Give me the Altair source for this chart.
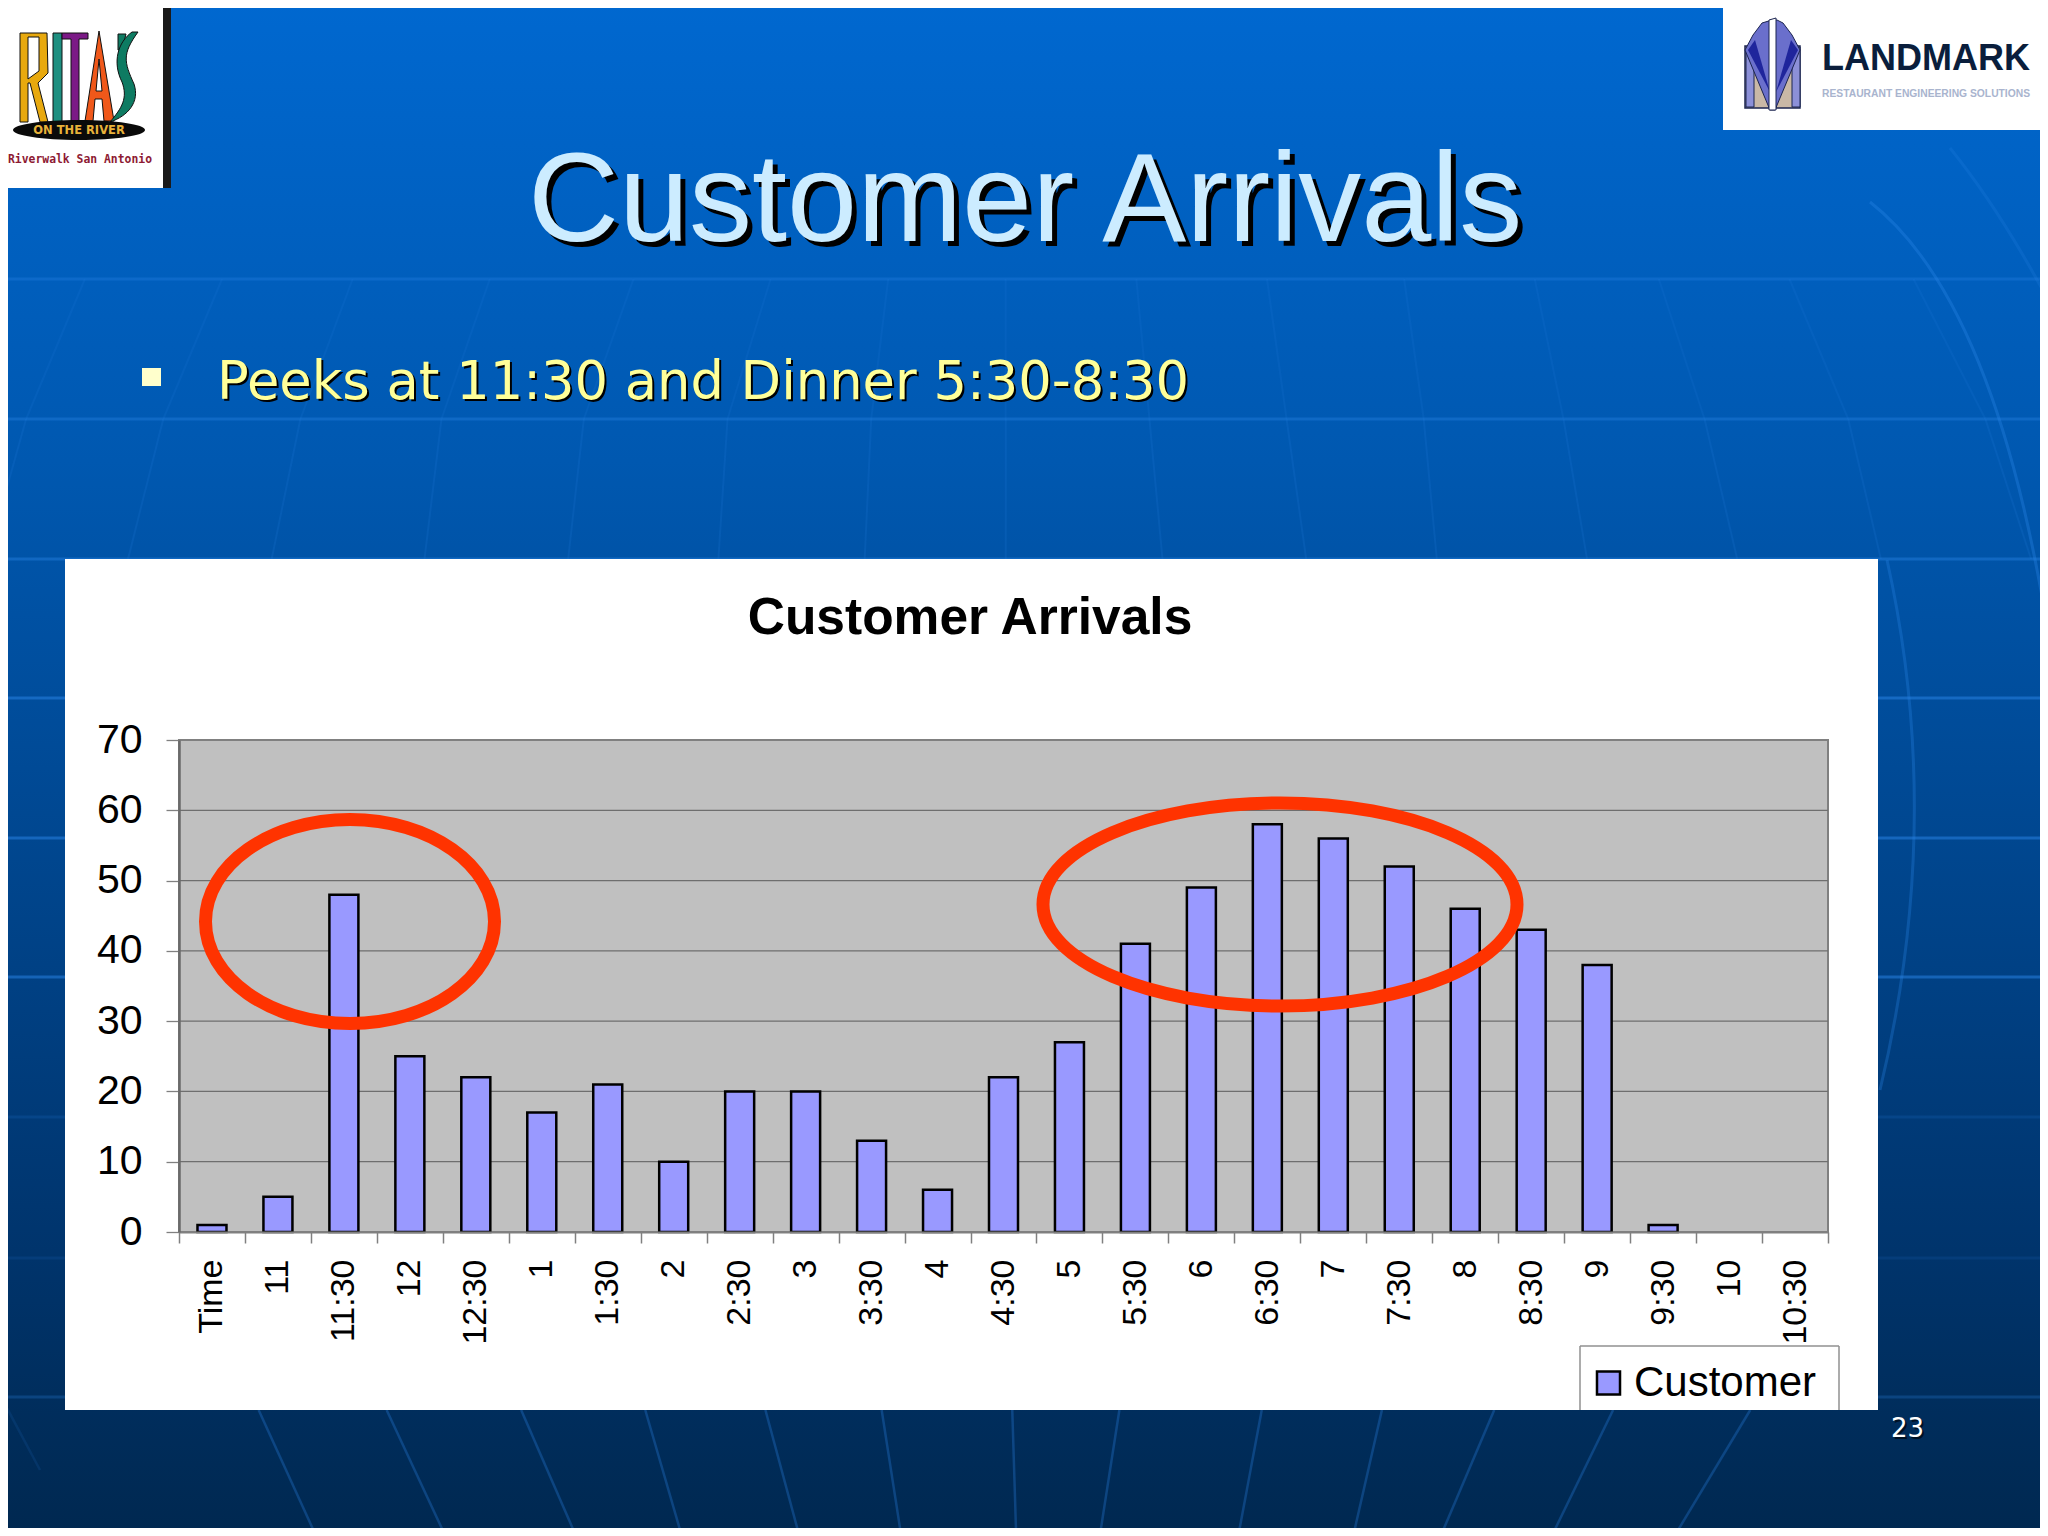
import altair as alt
import pandas as pd

times = ["Time","11","11:30","12","12:30","1","1:30","2","2:30","3","3:30","4","4:30","5","5:30","6","6:30","7","7:30","8","8:30","9","9:30","10","10:30"]
customers = [1,5,48,25,22,17,21,10,20,20,13,6,22,27,41,49,58,56,52,46,43,38,1,0,0]
grid_values = [10,20,30,40,50,60]
y_ticks = [0,10,20,30,40,50,60,70]
series_name = "Customer"

# plot area on the page
PX, PY, PW, PH = 179, 740, 1649, 492
def X(v): return v - PX
def Y(v): return v - PY

one = alt.Data(values=[{"a": 1}])
layers = []

def rect(x0, y0, x1, y1, **kw):
    layers.append(alt.Chart(one).mark_rect(**kw).encode(
        x=alt.value(X(x0)), x2=alt.value(X(x1)), y=alt.value(Y(y0)), y2=alt.value(Y(y1))))

def line(x0, y0, x1, y1, color="#2A86E8", opacity=0.35, width=3):
    layers.append(alt.Chart(one).mark_rule(color=color, opacity=opacity, strokeWidth=width).encode(
        x=alt.value(X(x0)), x2=alt.value(X(x1)), y=alt.value(Y(y0)), y2=alt.value(Y(y1))))

def text(s, x, y, size, color, font="Liberation Sans", bold=False, align="left", **kw):
    layers.append(alt.Chart(one).mark_text(font=font, fontSize=size, color=color, align=align,
        baseline="alphabetic", fontWeight="bold" if bold else "normal", **kw).encode(
        x=alt.value(X(x)), y=alt.value(Y(y)), text=alt.value(s)))

def shape(path, x, y, fill=None, stroke=None, sw=1, opacity=1):
    kw = dict(shape=path, size=4, opacity=opacity)
    if fill:
        kw.update(filled=True, fill=fill)
    else:
        kw.update(filled=False)
    if stroke:
        kw.update(stroke=stroke, strokeWidth=sw)
    else:
        kw.update(strokeWidth=0)
    layers.append(alt.Chart(one).mark_point(**kw).encode(x=alt.value(X(x)), y=alt.value(Y(y))))

def ellipse_path(rx, ry):
    return f"M{-rx},0 A{rx},{ry} 0 1,0 {rx},0 A{rx},{ry} 0 1,0 {-rx},0 Z"

# slide background
rect(0, 0, 2048, 1536, color=alt.Gradient(gradient="linear", x1=0, y1=0, x2=0, y2=1, stops=[
    alt.GradientStop(color="#0068D0", offset=0),
    alt.GradientStop(color="#0058B0", offset=0.3),
    alt.GradientStop(color="#004A96", offset=0.5),
    alt.GradientStop(color="#00356E", offset=0.8),
    alt.GradientStop(color="#002850", offset=1)]))
for yy, op in [(279,.3),(419,.35),(559,.4),(698,.5),(838,.5),(977,.5),(1117,.15),(1258,.12),(1397,.25)]:
    line(0, yy, 2048, yy, opacity=op, width=3)
# faint meridians above the panel
upper_a = [65,170,270,375,485,590,680,770,870,970,1075,1175,1270,1370,1465]
upper_b = [20,125,230,338,447,557,667,770,880,985,1090,1197,1305,1415,1520]
upper_c = [-10,98,208,325,435,550,662,770,890,1000,1100,1215,1330,1440,1555]
for a, b, c in zip(upper_a, upper_b, upper_c):
    line(a/.7656, 279, b/.7656, 419, opacity=0.12, width=2)
    line(b/.7656, 419, c/.7656, 559, opacity=0.14, width=2)
# meridians under the panel
lower_a = [198,296,399,494,586,675,775,857,966,1058,1144,1235,1340]
lower_b = [242,341,441,522,612,690,778,842,948,1036,1103,1188,1282]
for a, b in zip(lower_a, lower_b):
    line(a/.7656, 1410, b/.7656, 1536, opacity=0.3, width=2.5)
line(0, 1395, 40, 1470, opacity=0.12, width=2.5)
# arcs at the right
shape("M1870,202 Q1995,300 2048,632", 0, 0, stroke="#2A86E8", sw=3, opacity=0.35)
shape("M1887,560 Q1945,820 1880,1090", 0, 0, stroke="#2A86E8", sw=3, opacity=0.3)
shape("M1950,148 Q2000,210 2048,300", 0, 0, stroke="#2A86E8", sw=3, opacity=0.2)

# Rita's logo
rect(0, 0, 163, 188, color="white")
rect(163, 0, 171, 188, color="#1A1A1A")
shape("M0,0 L27,0 L28,40 L18,50 L28,89 L20,89 L10,50 L8,50 L8,89 L0,89 Z M8,4 L8,46 L19,38 L19,4 Z", 20, 33, fill="#E8A90E", stroke="#111111", sw=1)
shape("M0,0 L9,0 L9,89 L0,89 Z", 53, 33, fill="#1E8F80", stroke="#111111", sw=1)
shape("M0,0 L26,0 L26,6 L17,6 L17,89 L9,89 L9,6 L0,6 Z", 62, 33, fill="#7B1A86", stroke="#111111", sw=1)
shape("M14,0 L29,90 L19,90 L17,68 L10,68 L8,90 L0,90 Z M11,60 L17,60 L14,28 Z", 85, 31, fill="#F0581A", stroke="#111111", sw=1)
shape("M0,0 L8,0 L4,16 L0,16 Z", 118, 34, fill="#0E7B62", stroke="#111111", sw=1)
shape("M22,0 L28,0 C12,22 14,30 24,52 C30,70 18,84 0,90 C12,76 18,66 12,50 C2,30 8,10 22,0 Z", 110, 32, fill="#0E7B62", stroke="#111111", sw=1)
shape(ellipse_path(66, 10), 79, 130, fill="#0A0A0A")
text("ON THE RIVER", 79, 134, 11.5, "#E9B23A", font="DejaVu Sans", bold=True, align="center")
text("Riverwalk San Antonio", 8, 163, 11.4, "#8E1A33", font="DejaVu Sans Mono", bold=True)

# Landmark logo
rect(1723, 0, 2048, 130, color="white")
shape("M0,0 L55,0 L55,62 L47,62 L45,62 L0,62 Z", 1745, 46, fill="#C9B8A6", stroke="#1B2450", sw=1.5)
shape("M0,2 L8,0 L8,60 L0,60 Z", 1746, 47, fill="#8C90D8", stroke="#1B2450", sw=1)
shape("M0,2 L8,0 L8,60 L0,60 Z", 1792, 47, fill="#8C90D8", stroke="#1B2450", sw=1)
shape("M17,3 L27,0 L32,0 L38,3 L47,15 L55,30 L30,90 L25,90 L0,30 L8,15 Z", 1745, 20, fill="#6A6FCC", stroke="#1B2450", sw=1)
shape("M0,28 L7,18 L22,70 Z", 1748, 22, fill="#1F259C")
shape("M22,28 L15,18 L0,70 Z", 1776, 22, fill="#1F259C")
shape("M0,2 L7,0 L7,92 L0,92 Z", 1769, 18, fill="#FFFFFF", stroke="#1B2450", sw=1)
text("LANDMARK", 1822, 70, 36, "#0A1E3C", bold=True)
text("RESTAURANT ENGINEERING SOLUTIONS", 1822, 97, 10.3, "#A9B4CE", bold=True)

# slide title and bullet
text("Customer Arrivals", 533, 246, 126, "#000000")
text("Customer Arrivals", 528, 241, 126, "#CCECFF")
rect(142, 368, 161, 386, color="#FFFFCC")
text("Peeks at 11:30 and Dinner 5:30-8:30", 219, 401, 52.7, "#000000", font="DejaVu Sans")
text("Peeks at 11:30 and Dinner 5:30-8:30", 217, 399, 52.7, "#FFFF99", font="DejaVu Sans")
text("23", 1893, 1439, 26, "#000000", font="DejaVu Sans", opacity=0.6)
text("23", 1891, 1437, 26, "#FFFFFF", font="DejaVu Sans")

# chart panel
rect(65, 559, 1878, 1410, color="white")
text("Customer Arrivals", 970, 634, 51.5, "#000000", bold=True, align="center")
rect(PX, PY, PX + PW, PY + PH, color="#C0C0C0", stroke="#808080", strokeWidth=2)

# legend frame, open at the bottom where the panel cuts it
line(1580, 1346, 1839, 1346, color="#909090", opacity=1, width=1.5)
line(1580, 1346, 1580, 1410, color="#909090", opacity=1, width=1.5)
line(1839, 1346, 1839, 1410, color="#909090", opacity=1, width=1.5)

y_scale = alt.Scale(domain=[0, 70], nice=False, zero=True)
x_scale = alt.Scale(domain=times, padding=0)
y_axis = alt.Axis(values=y_ticks, labelFontSize=41, labelFont="Liberation Sans", labelColor="#000000",
    labelPadding=24, tickSize=13, tickColor="#808080", tickWidth=1.3, domainColor="#6A6A6A",
    domainWidth=2.5, grid=False, zindex=1)

grid = alt.Chart(pd.DataFrame({"v": grid_values})).mark_rule(color="#6E6E6E", strokeWidth=1.3).encode(
    y=alt.Y("v:Q", scale=y_scale, title=None, axis=y_axis), x=alt.value(0), x2=alt.value(PW))
layers.append(grid)

df = pd.DataFrame({"time": times, "customers": customers, "series": series_name})
bars = alt.Chart(df).mark_bar(size=29, stroke="#000000").encode(
    x=alt.X("time:N", sort=None, scale=x_scale, title=None, axis=alt.Axis(
        labelAngle=270, labelFontSize=34, labelFont="Liberation Sans", labelColor="#000000",
        labelPadding=16, labelOverlap=False, tickBand="extent", tickSize=11, tickColor="#808080",
        tickWidth=1.5, domainColor="#808080", domainWidth=2, grid=False, zindex=1)),
    y=alt.Y("customers:Q", scale=y_scale, title=None, axis=y_axis),
    strokeWidth=alt.condition("datum.customers > 0", alt.value(2.5), alt.value(0)),
    color=alt.Color("series:N", scale=alt.Scale(domain=[series_name], range=["#9999FF"]), legend=alt.Legend(
        title=None, orient="none", legendX=1587.5 - PX, legendY=1362 - PY, padding=0,
        symbolType="square", symbolSize=530,
        symbolStrokeColor="#000000", symbolStrokeWidth=2.5, labelFont="Liberation Sans",
        labelFontSize=42, labelColor="#000000", labelOffset=4.5, labelLimit=400)))
layers.append(bars)

# red call-out rings
shape(ellipse_path(144.5, 102), 350, 921.5, stroke="#FF3300", sw=13)
shape(ellipse_path(237, 101.5), 1280, 904.5, stroke="#FF3300", sw=13)

chart = alt.layer(*layers).properties(
    width=PW, height=PH,
    padding={"left": PX - 8, "top": PY - 8, "right": 2032 - (PX - 8) - PW, "bottom": 1520 - (PY - 8) - PH},
    autosize=alt.AutoSizeParams(type="none"),
    background="#004A96",
).configure_view(stroke=None)

chart.save("out.html", embed_options={"renderer": "svg", "actions": False})
